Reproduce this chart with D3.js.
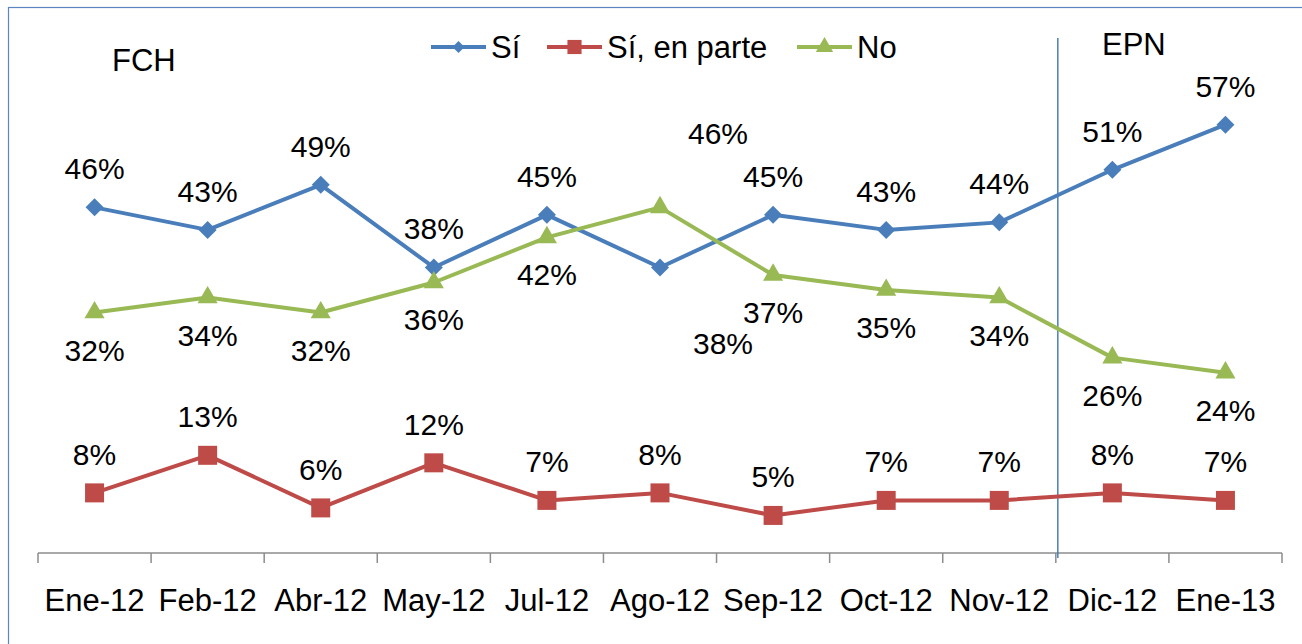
<!DOCTYPE html>
<head>
  <meta charset="utf-8">
  <style>
    body { margin: 0; background: #fff; }
    svg { display: block; font-family: "Liberation Sans", Arial, sans-serif; }
  </style>
  <script src="https://cdn.jsdelivr.net/npm/d3@7"></script>
</head>
<body>
<div id=chart></div>
<script>
// data
const months = ['Ene-12', 'Feb-12', 'Abr-12', 'May-12', 'Jul-12', 'Ago-12', 'Sep-12', 'Oct-12', 'Nov-12', 'Dic-12', 'Ene-13']
const si = [46, 43, 49, 38, 45, 38, 45, 43, 44, 51, 57]
const si_en_parte = [8, 13, 6, 12, 7, 8, 5, 7, 7, 8, 7]
const no = [32, 34, 32, 36, 42, 46, 37, 35, 34, 26, 24]
const series_names = ['Sí', 'Sí, en parte', 'No']
const periods = ['FCH', 'EPN']
const period_break = 'Dic-12'

const width = 1302, height = 644
const svg = d3.select('#chart').append('svg')
  .attr('width', width).attr('height', height)

// outer border (runs off the right and bottom edge)
svg.append('rect')
  .attr('x', 8.5).attr('y', 7.5).attr('width', width + 20).attr('height', height + 20)
  .attr('fill', 'none').attr('stroke', '#5b86c0').attr('stroke-width', 1.2)

const x = d3.scaleBand().domain(months).range([38, 1282]).paddingInner(0).paddingOuter(0)
const y = d3.scaleLinear().domain([0, 70]).range([553, 27])
const cx = m => x(m) + x.bandwidth() / 2

// x axis: labels from d3.axisBottom, ticks on band boundaries
const axis = svg.append('g').attr('transform', `translate(0,${y(0)})`)
  .call(d3.axisBottom(x).tickSize(0).tickPadding(36))
axis.select('.domain').remove()
axis.selectAll('text').attr('font-size', 31).attr('fill', '#000').attr('font-family', null)
svg.append('line')
  .attr('x1', x.range()[0]).attr('x2', x.range()[1])
  .attr('y1', y(0)).attr('y2', y(0))
  .attr('stroke', '#8c8c8c').attr('stroke-width', 1.5)
svg.append('g').selectAll('line').data([...months.map(m => x(m)), x.range()[1]]).join('line')
  .attr('x1', d => d).attr('x2', d => d)
  .attr('y1', y(0)).attr('y2', y(0) + 10)
  .attr('stroke', '#8c8c8c').attr('stroke-width', 1.5)

// FCH / EPN divider
const break_x = x(period_break) + 2
svg.append('line')
  .attr('x1', break_x).attr('x2', break_x)
  .attr('y1', 38).attr('y2', y(0) + 5)
  .attr('stroke', '#4a7ebb').attr('stroke-width', 1.5)
svg.append('text').attr('x', 112).attr('y', 71).attr('font-size', 31).text(periods[0])
svg.append('text').attr('x', 1102).attr('y', 55).attr('font-size', 31).text(periods[1])

const diamond = d3.symbol(d3.symbolSquare, 162)
const series = [
  { name: series_names[0], values: si, color: '#4a7ebb', marker: d3.symbol(d3.symbolSquare, 162)(), rotate: 45, label: 'above' },
  { name: series_names[1], values: si_en_parte, color: '#be4b48', marker: d3.symbol(d3.symbolSquare, 361)(), rotate: 0, label: 'above' },
  { name: series_names[2], values: no, color: '#98b954', marker: d3.symbol(d3.symbolTriangle, 175)(), rotate: 0, label: 'below' },
]
// labels that were moved by hand in the original (Ago-12)
const label_moves = {
  'Sí|Ago-12': { dx: 63, dy: 87 },
  'No|Ago-12': { dx: 58, dy: -63 },
}

const line = d3.line().x(d => cx(d.m)).y(d => y(d.v))
series.forEach(s => {
  const pts = months.map((m, i) => ({ m, v: s.values[i] }))
  const g = svg.append('g')
  g.append('path').datum(pts).attr('d', line)
    .attr('fill', 'none').attr('stroke', s.color).attr('stroke-width', 4).attr('stroke-linejoin', 'round')
  g.selectAll('path.pt').data(pts).join('path').attr('class', 'pt')
    .attr('d', s.marker).attr('fill', s.color)
    .attr('transform', d => `translate(${cx(d.m)},${y(d.v)}) rotate(${s.rotate})`)
  g.selectAll('text').data(pts).join('text')
    .attr('x', d => cx(d.m) + ((label_moves[`${s.name}|${d.m}`] || {}).dx || 0))
    .attr('y', d => {
      const mv = label_moves[`${s.name}|${d.m}`]
      if (mv) return y(d.v) + mv.dy
      return y(d.v) + (s.label === 'above' ? -28 : 48)
    })
    .attr('text-anchor', 'middle').attr('font-size', 30).attr('fill', '#000')
    .text(d => `${d.v}%`)
})

// legend
const legend_x = [431, 547, 797]
const legend = svg.append('g').selectAll('g').data(series).join('g')
  .attr('transform', (d, i) => `translate(${legend_x[i]},47)`)
legend.append('line').attr('x1', 0).attr('x2', 55)
  .attr('stroke', d => d.color).attr('stroke-width', 4)
legend.append('path')
  .attr('d', (d, i) => i === 0 ? d3.symbol(d3.symbolSquare, 72)() : i === 1 ? d3.symbol(d3.symbolSquare, 200)() : d3.symbol(d3.symbolTriangle, 130)())
  .attr('transform', d => `translate(27.5,0) rotate(${d.rotate})`)
  .attr('fill', d => d.color)
legend.append('text').attr('x', 60).attr('y', 11).attr('font-size', 31).text(d => d.name)
</script>
</body>
